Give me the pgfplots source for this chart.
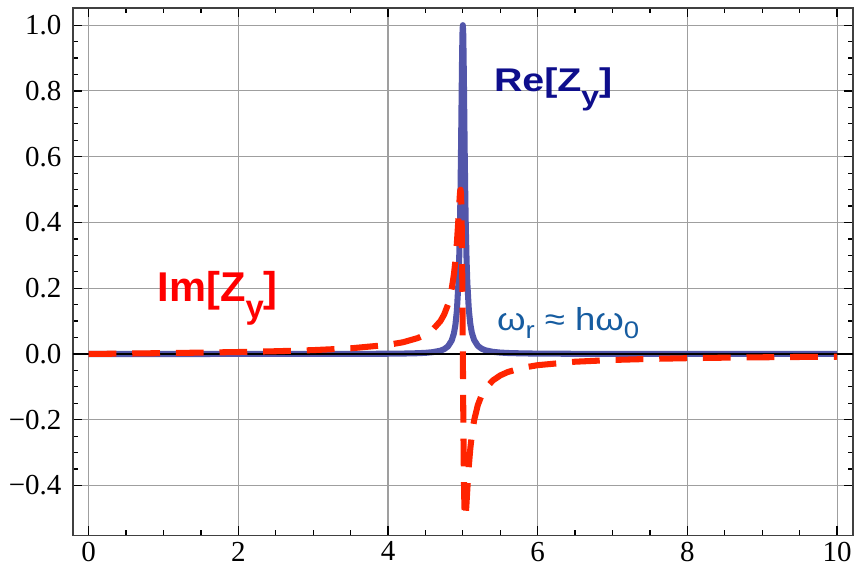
\documentclass[border=0pt]{standalone}
\usepackage{fontspec}
\setmainfont{Liberation Serif}
\newfontfamily\labelfont{Liberation Sans}
\usepackage{pgfplots}
\pgfplotsset{compat=1.18}

\definecolor{reblue}{RGB}{82,86,170}
\definecolor{imred}{RGB}{255,36,0}
\definecolor{relab}{RGB}{14,14,140}
\definecolor{omlab}{RGB}{22,92,160}

% Re and Im of the resonator impedance
\pgfplotstableread{
x re
0 0
0.5 0.0000016
1 0.0000068
1.5 0.000017
2 0.0000354
2.5 0.0000694
3 0.000137
3.5 0.000294
4 0.00077
4.2 0.00127
4.4 0.00237
4.5 0.00349
4.6 0.00557
4.7 0.01009
4.75 0.01462
4.8 0.02289
4.85 0.04039
4.88 0.06207
4.9 0.08734
4.92 0.1305
4.94 0.2113
4.95 0.2789
4.96 0.3771
4.965 0.4419
4.97 0.5189
4.975 0.6086
4.98 0.7086
4.985 0.8123
4.99 0.9070
4.995 0.9750
5 1
5.005 0.9751
5.01 0.9073
5.015 0.8132
5.02 0.7103
5.025 0.6109
5.03 0.5219
5.035 0.4453
5.04 0.3809
5.05 0.2829
5.06 0.2154
5.08 0.1342
5.1 0.0906
5.12 0.0649
5.15 0.0428
5.2 0.02475
5.25 0.01613
5.3 0.01136
5.4 0.00654
5.5 0.00427
5.6 0.00302
5.8 0.00176
6 0.00116
6.5 0.00055
7 0.00033
7.5 0.00022
8 0.00016
8.5 0.00013
9 0.0001
9.5 0.00008
10 0.00007
}\redata

\pgfplotstableread{
x im
0 0
0.5 0.00126
1 0.0026
1.5 0.00412
2 0.00595
2.5 0.00833
3 0.01172
3.5 0.01715
4 0.02776
4.2 0.03562
4.4 0.04864
4.5 0.0590
4.6 0.07445
4.7 0.09993
4.75 0.1200
4.8 0.14956
4.85 0.19687
4.88 0.2413
4.9 0.2823
4.92 0.3369
4.94 0.4083
4.95 0.4484
4.96 0.4847
4.965 0.4966
4.97 0.4996
4.975 0.4881
4.98 0.4544
4.985 0.3905
4.99 0.2905
4.995 0.1561
5 0
5.005 -0.1559
5.01 -0.2901
5.015 -0.3898
5.02 -0.4537
5.025 -0.4875
5.03 -0.4995
5.035 -0.4970
5.04 -0.4856
5.05 -0.4504
5.06 -0.4111
5.08 -0.3409
5.1 -0.2870
5.12 -0.2464
5.15 -0.2024
5.2 -0.1554
5.25 -0.1260
5.3 -0.1060
5.4 -0.0806
5.5 -0.0652
5.6 -0.0549
5.8 -0.04188
6 -0.03405
6.5 -0.02354
7 -0.01822
7.5 -0.0150
8 -0.01282
8.5 -0.01124
9 -0.01004
9.5 -0.0091
10 -0.00833
}\imdata

\begin{document}
\begin{tikzpicture}
\begin{axis}[
    scale only axis,
    width=309.2pt, height=209.1pt,
    xmin=-0.21, xmax=10.21,
    ymin=-0.552, ymax=1.052,
    axis line style={black!75, line width=0.6pt},
    tick pos=both, tick align=inside,
    xticklabel pos=lower, yticklabel pos=left,
    xtick={0,2,4,6,8,10},
    xticklabels={0,2,4,6,8,10},
    ytick={-0.4,-0.2,0,0.2,0.4,0.6,0.8,1.0},
    yticklabels={−0.4,−0.2,0.0,0.2,0.4,0.6,0.8,1.0},
    minor x tick num=3, minor y tick num=3,
    major tick length=3.6pt, minor tick length=2pt,
    tick style={black, line width=0.5pt},
    grid=major,
    major grid style={gray!75, line width=0.45pt},
    ticklabel style={font=\fontsize{11.5}{12}\selectfont},
    xticklabel style={yshift=1pt},
    yticklabel style={xshift=-1pt},
    clip=true,
]
\addplot[reblue, line width=2.4pt, line join=round] table[x=x, y=re] {\redata};
\addplot[black, line width=0.5pt] coordinates {(-0.21,0) (10.21,0)};
\addplot[imred, line width=2.4pt, line join=round, dash pattern=on 11pt off 6.3pt] table[x=x, y=im] {\imdata};

\node[anchor=base west, inner sep=0pt, text=relab] at (axis cs:5.41,0.797)
  {\labelfont\bfseries\fontsize{13}{13}\selectfont\scalebox{1.2}[1]{Re[Z\raisebox{-0.42em}{\fontsize{10.5}{10.5}\selectfont y}]}};
\node[anchor=base west, inner sep=0pt, text=red] at (axis cs:0.916,0.161)
  {\labelfont\bfseries\fontsize{16.5}{16.5}\selectfont Im[Z\raisebox{-0.42em}{\fontsize{13}{13}\selectfont y}]};
\node[anchor=base west, inner sep=0pt, text=omlab] at (axis cs:5.45,0.070)
  {\labelfont\fontsize{12.6}{12.6}\selectfont\scalebox{1.15}[1]{ω\raisebox{-0.25em}{\fontsize{9.5}{9.5}\selectfont r} ≈ hω\raisebox{-0.25em}{\fontsize{9.5}{9.5}\selectfont 0}}};

\coordinate (sw) at (rel axis cs:0,0);
\coordinate (ne) at (rel axis cs:1,1);
\end{axis}
\path ([xshift=-28.9pt,yshift=-11.5pt]sw) ([xshift=2pt,yshift=3.2pt]ne);
\end{tikzpicture}
\end{document}
